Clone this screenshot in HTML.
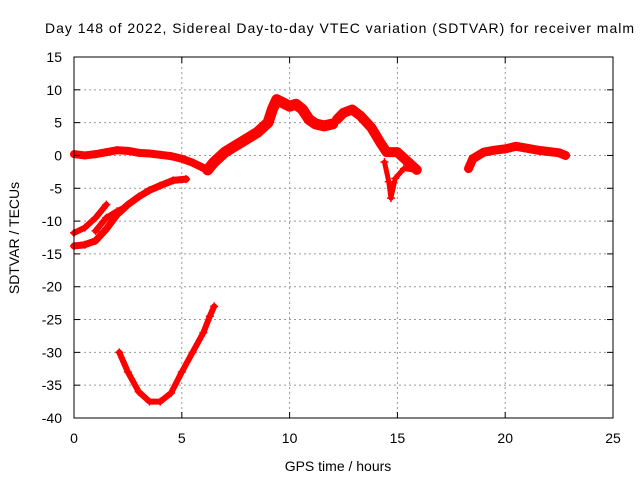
<!DOCTYPE html>
<html><head><meta charset="utf-8"><style>
body{margin:0;background:#fff}
svg{font-family:"Liberation Sans",sans-serif;font-size:14px}
</style></head><body>
<svg id="chart" width="640" height="480">
<rect width="640" height="480" fill="#fff"/>
<text x="45" y="33" textLength="589" lengthAdjust="spacing">Day 148 of 2022, Sidereal Day-to-day VTEC variation (SDTVAR) for receiver malm</text>
<text x="338" y="471" text-anchor="middle">GPS time / hours</text>
<text x="19" y="238" text-anchor="middle" transform="rotate(-90 19 238)">SDTVAR / TECUs</text>
<g id="grid"></g><g id="series"></g>
<rect x="74" y="57" width="539" height="361" fill="none" stroke="#000"/>
<g id="ticks"></g>
</svg>
<script>
const xTicks=[0,5,10,15,20,25];
const yTicks=[15,10,5,0,-5,-10,-15,-20,-25,-30,-35,-40];
const seriesMainX=[0,0.5,1,1.5,2,2.5,3,3.5,4,4.5,5,5.5,6,6.2];
const seriesMainY=[0.2,0,0.2,0.5,0.8,0.7,0.4,0.3,0.1,-0.1,-0.5,-1.1,-1.9,-2.2];
const seriesMidX=[6.2,6.5,7,7.5,8,8.5,9,9.2,9.4,9.7,10,10.3,10.6,10.9,11.2,11.6,12];
const seriesMidY=[-2.2,-1,0.5,1.5,2.5,3.5,5,7,8.5,8,7.5,7.8,7,5.5,4.8,4.5,4.8];
const seriesAftX=[12.2,12.5,12.9,13.3,13.8,14.2,14.5,15,15.5,15.9];
const seriesAftY=[5.5,6.5,7,6,4.2,2,0.5,0.5,-1,-2.2];
const branchX=[14.4,14.6,14.7,14.9,15.3,15.9];
const branchY=[-1,-4,-6.5,-3.5,-2,-2.3];
const seriesEveX=[18.3,18.5,19,19.5,20,20.5,21,21.5,22,22.5,22.8];
const seriesEveY=[-2,-0.5,0.5,0.8,1,1.4,1.1,0.8,0.6,0.4,0];
const seriesDX=[0,0.5,1,1.5];
const seriesDY=[-11.8,-11,-9.5,-7.5];
const seriesFX=[1,1.5,2,2.3];
const seriesFY=[-11.5,-9.5,-8.5,-8];
const seriesEX=[0,0.5,1,1.5,2,2.5,3,3.5,4,4.6,5.2];
const seriesEY=[-13.8,-13.6,-13,-11.2,-9,-7.5,-6.3,-5.3,-4.6,-3.8,-3.6];
const seriesUX=[2.1,2.5,3,3.5,4,4.5,5,5.5,6,6.3,6.5];
const seriesUY=[-30,-33,-36,-37.5,-37.5,-36.2,-33,-30,-27,-24.5,-23];
const X=v=>74+v*539/25, Y=v=>57+(15-v)*361/55;
const NS="http://www.w3.org/2000/svg";
function mk(t,p,a){const e=document.createElementNS(NS,t);for(const k in a)e.setAttribute(k,a[k]);p.appendChild(e);return e;}
const grid=document.getElementById('grid'),ticks=document.getElementById('ticks'),ser=document.getElementById('series');
xTicks.forEach(v=>{
 if(v>0&&v<25){const l=mk('line',grid,{x1:X(v),x2:X(v),y1:57,y2:418,stroke:'#999','stroke-dasharray':'2,3'});
 
 }
 mk('line',ticks,{x1:X(v),x2:X(v),y1:418,y2:412,stroke:'#000'});
 mk('line',ticks,{x1:X(v),x2:X(v),y1:57,y2:63,stroke:'#000'});
 const t=mk('text',ticks,{x:X(v),y:443,'text-anchor':'middle'});t.textContent=v;
 
 
});
yTicks.forEach(v=>{
 if(v<15&&v>-40){const l=mk('line',grid,{x1:74,x2:613,y1:Y(v),y2:Y(v),stroke:'#999','stroke-dasharray':'2,3'});
 
 }
 mk('line',ticks,{x1:74,x2:80,y1:Y(v),y2:Y(v),stroke:'#000'});
 mk('line',ticks,{x1:613,x2:607,y1:Y(v),y2:Y(v),stroke:'#000'});
 const t=mk('text',ticks,{x:62,y:Y(v)+5,'text-anchor':'end'});t.textContent=v;
 
 
});
function draw(xs,ys,name,w){
 const pts=xs.map((x,i)=>X(x)+','+Y(ys[i])).join(' ');
 const p=mk('polyline',ser,{points:pts,fill:'none',stroke:'#f00','stroke-width':w,'stroke-linejoin':'round','stroke-linecap':'round'});
 
 
 xs.forEach((x,i)=>{const cx=X(x),cy=Y(ys[i]);
  mk('path',ser,{d:`M${cx-4},${cy}h8M${cx},${cy-4}v8`,stroke:'#f00','stroke-width':1.5});});
}
draw(seriesMainX,seriesMainY,'series-main',8);
draw(seriesMidX,seriesMidY,'series-midday',11);
draw(seriesAftX,seriesAftY,'series-afternoon',10);
draw(branchX,branchY,'series-branch',5);
draw(seriesEveX,seriesEveY,'series-evening',9);
draw(seriesDX,seriesDY,'series-d',6);
draw(seriesFX,seriesFY,'series-f',6);
draw(seriesEX,seriesEY,'series-e',7);
draw(seriesUX,seriesUY,'series-u',6);
</script>
</body></html>
